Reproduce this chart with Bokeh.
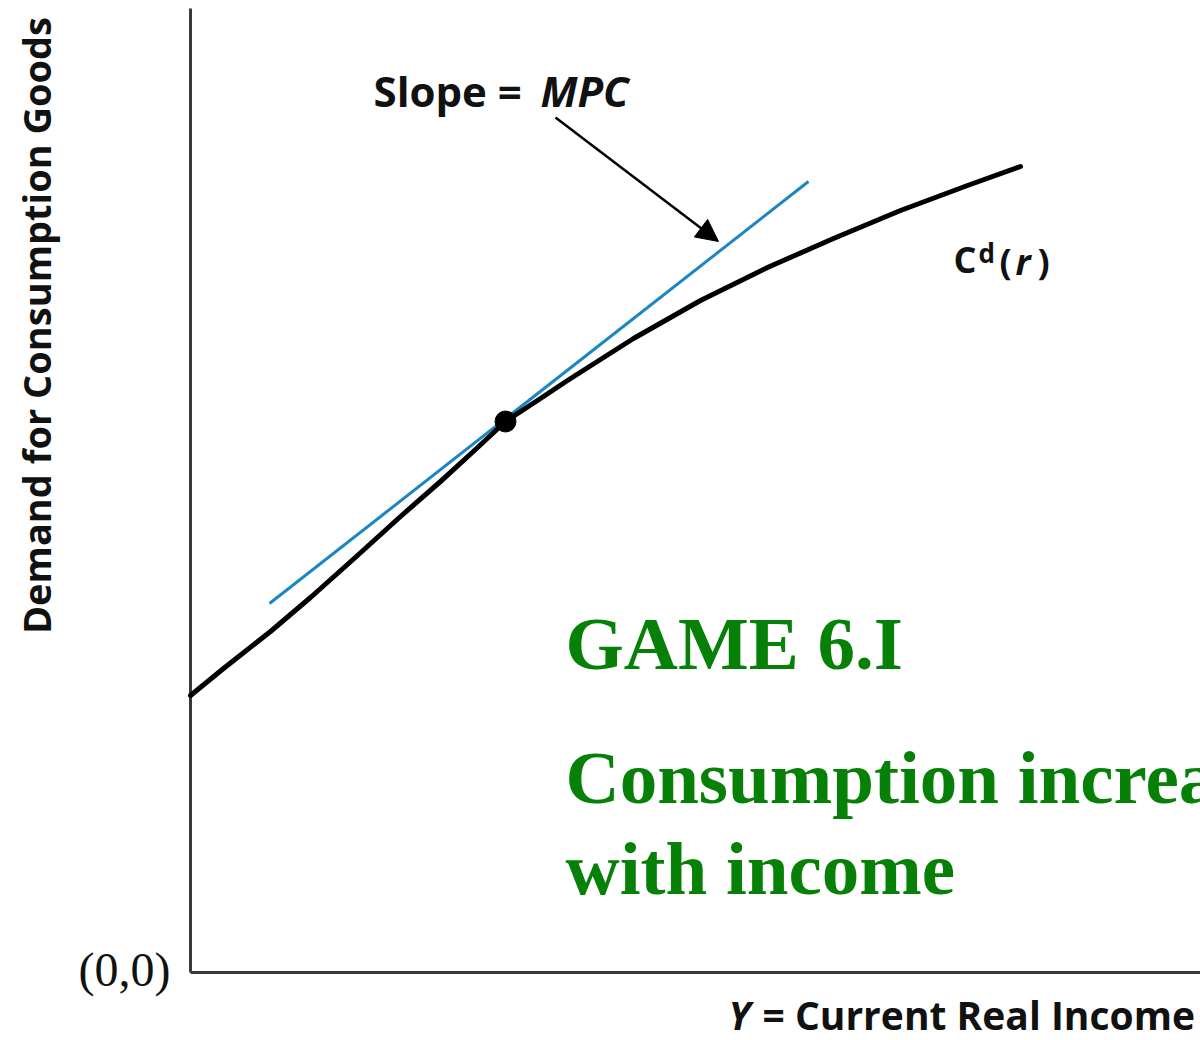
import numpy as np
from bokeh.plotting import figure
from bokeh.models import Range1d, Arrow, NormalHead
from bokeh.core.properties import value
from bokeh.embed import file_html
from bokeh.resources import INLINE

# ---- data (income on x, consumption demand on y; origin at (0,0)) ----
income = [0, 33, 80, 120, 167, 210, 250, 285, 315, 350, 377, 443, 510, 577, 643, 710, 777, 830]
consumption = [277, 304, 341, 375, 417, 456, 491, 523, 551, 574, 592, 634, 672, 705, 734, 762, 787, 806]

point_income = [315]
point_consumption = [551]

tangent_income = [79, 618]
tangent_consumption = [369, 791]

arrow_from = [365, 855]
arrow_to = [528, 731]

axis_x_extent = [0, 1010]
axis_y_extent = [0, 964]

SANS = "Open Sans"
SERIF = "Liberation Serif"

p = figure(width=1200, height=1040, x_range=Range1d(-190, 1010), y_range=Range1d(-68, 972),
           toolbar_location=None, output_backend="svg", min_border=0)
p.axis.visible = False
p.grid.visible = False
p.outline_line_color = None
p.background_fill_color = "white"
p.border_fill_color = "white"

# axes
p.line(axis_x_extent, [0, 0], line_color="#3a3a3a", line_width=3)
p.line([0, 0], axis_y_extent, line_color="#3a3a3a", line_width=3)

# tangent line and curve
p.line(tangent_income, tangent_consumption, line_color="#1a86c2", line_width=3)
p.line(income, consumption, line_color="black", line_width=5, line_join="round", line_cap="round")
p.scatter(point_income, point_consumption, size=21, color="black")

# arrow
p.add_layout(Arrow(end=NormalHead(size=22, fill_color="black", line_color="black"),
                   x_start=arrow_from[0], y_start=arrow_from[1],
                   x_end=arrow_to[0], y_end=arrow_to[1],
                   line_color="black", line_width=2.5))

BASE_SHIFT = 0.36  # compensation for alphabetic baseline placement


def txt(x, y, s, size, font=SANS, style="bold", color="#111111", align="left",
        baseline="alphabetic", angle=0):
    if baseline == "alphabetic":
        y = y + BASE_SHIFT * size
    p.text(x=[x], y=[y], text=[s], text_font=value(font), text_font_size=f"{size}px",
           text_font_style=style, text_color=color, text_align=align,
           text_baseline=baseline, angle=angle)


# y axis label
txt(-155, 647, "Demand for Consumption Goods", 38, align="center", baseline="middle",
    angle=np.pi / 2)
# x axis label
txt(538, -56, "Y", 39, style="bold italic")
txt(572, -56, "= Current Real Income", 39)
# origin
txt(-20, 3, "(0,0)", 48, font=SERIF, style="normal", align="right", baseline="middle")

# slope label
txt(183, 867, "Slope =", 42)
txt(350, 867, "MPC", 42, style="bold italic")

# curve label Cd(r)
txt(763, 700, "C", 36)
txt(788, 710, "d", 26)
txt(809, 698, "(", 36)
txt(825, 698, "r", 36, style="bold italic")
txt(847, 698, ")", 36)

# green game text
GREEN = "#078007"
txt(375, 302, "GAME 6.I", 75, font=SERIF, color=GREEN)
txt(375, 168, "Consumption increases", 75, font=SERIF, color=GREEN)
txt(375, 77, "with income", 75, font=SERIF, color=GREEN)

open("out.html", "w").write(file_html(p, INLINE))
